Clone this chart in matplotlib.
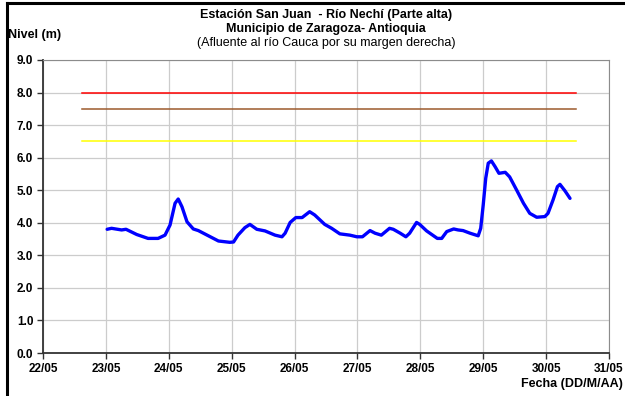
import matplotlib
matplotlib.use("Agg")
import matplotlib.pyplot as plt
from matplotlib.lines import Line2D

# ---- data ----
day_ticks = [22, 23, 24, 25, 26, 27, 28, 29, 30, 31]
day_labels = ["22/05", "23/05", "24/05", "25/05", "26/05", "27/05", "28/05", "29/05", "30/05", "31/05"]
y_ticks = [0, 1, 2, 3, 4, 5, 6, 7, 8, 9]

days = [23.02, 23.09, 23.25, 23.32, 23.49, 23.67, 23.83, 23.94, 24.02, 24.10, 24.15, 24.21,
        24.29, 24.39, 24.47, 24.66, 24.79, 24.97, 25.03, 25.10, 25.21, 25.29, 25.40, 25.53,
        25.69, 25.80, 25.85, 25.93, 26.02, 26.12, 26.24, 26.32, 26.48, 26.59, 26.72, 26.88,
        26.99, 27.08, 27.20, 27.28, 27.38, 27.51, 27.57, 27.68, 27.77, 27.83, 27.94, 27.99,
        28.10, 28.27, 28.34, 28.42, 28.53, 28.60, 28.68, 28.79, 28.92, 28.96, 29.00, 29.04,
        29.08, 29.13, 29.19, 29.25, 29.35, 29.42, 29.53, 29.64, 29.74, 29.85, 29.98, 30.03,
        30.11, 30.18, 30.22, 30.30, 30.38]
levels = [3.80, 3.83, 3.78, 3.80, 3.64, 3.52, 3.52, 3.62, 3.93, 4.60, 4.73, 4.49,
          4.03, 3.81, 3.76, 3.57, 3.44, 3.40, 3.41, 3.62, 3.85, 3.95, 3.80, 3.75,
          3.62, 3.57, 3.68, 4.01, 4.16, 4.16, 4.34, 4.24, 3.95, 3.83, 3.66, 3.62,
          3.57, 3.57, 3.76, 3.68, 3.62, 3.83, 3.80, 3.68, 3.57, 3.68, 4.01, 3.95,
          3.75, 3.52, 3.52, 3.73, 3.81, 3.78, 3.76, 3.68, 3.60, 3.83, 4.55, 5.37,
          5.83, 5.90, 5.72, 5.52, 5.55, 5.41, 5.01, 4.60, 4.29, 4.17, 4.19, 4.29,
          4.70, 5.11, 5.18, 4.98, 4.75]

threshold_start = 22.62
threshold_end = 30.47
threshold_red = 8.0
threshold_brown = 7.5
threshold_yellow = 6.5

# ---- figure ----
plt.rcParams['font.family'] = ['Liberation Sans', 'DejaVu Sans']
fig = plt.figure(figsize=(6.25, 3.96), dpi=100)
ax = fig.add_axes([43/625, 1-353/396, (609-43)/625, (353-60)/396])

ax.plot([threshold_start, threshold_end], [threshold_red]*2, color='#ff0000', lw=1.1, zorder=3)
ax.plot([threshold_start, threshold_end], [threshold_brown]*2, color='#9c5a2c', lw=1.1, zorder=3)
ax.plot([threshold_start, threshold_end], [threshold_yellow]*2, color='#ffff00', lw=1.1, zorder=3)
ax.plot(days, levels, color='#0000ff', lw=2.4, solid_joinstyle='round',
        solid_capstyle='round', zorder=4)

ax.set_xlim(22, 31)
ax.set_ylim(0, 9)
ax.set_xticks(day_ticks)
ax.set_xticklabels(day_labels)
ax.set_yticks(y_ticks)
ax.set_yticklabels([f"{v:.1f}" for v in y_ticks])
ax.grid(True, color='#cccccc', lw=0.9, zorder=0)
ax.set_axisbelow(True)

for lab in ax.get_xticklabels() + ax.get_yticklabels():
    lab.set_fontweight('bold')
    lab.set_fontsize(8.5)
ax.tick_params(axis='both', direction='out', length=4, width=1.0, color='#333333', pad=3)
ax.spines['left'].set_color('#333333')
ax.spines['left'].set_linewidth(1.3)
ax.spines['bottom'].set_color('#333333')
ax.spines['bottom'].set_linewidth(1.3)
ax.spines['top'].set_color('#8c8c8c')
ax.spines['right'].set_color('#8c8c8c')

# titles
cx = (43 + 609) / 2 / 625
fig.text(cx, 1-15/396, "Estación San Juan  - Río Nechí (Parte alta)", ha='center', va='center',
         fontsize=9, fontweight='bold')
fig.text(cx, 1-29/396, "Municipio de Zaragoza- Antioquia", ha='center', va='center',
         fontsize=9, fontweight='bold')
fig.text(cx, 1-43/396, "(Afluente al río Cauca por su margen derecha)", ha='center', va='center',
         fontsize=9)
fig.text(8/625, 1-35/396, "Nivel (m)", ha='left', va='center', fontsize=9, fontweight='bold')
fig.text(623/625, 1-384/396, "Fecha (DD/M/AA)", ha='right', va='center', fontsize=9, fontweight='bold')

# outer border (left and top)
fig.add_artist(Line2D([7/625, 7/625], [0, 1-3/396], color='black', lw=2.2, transform=fig.transFigure))
fig.add_artist(Line2D([7/625, 1], [1-3/396, 1-3/396], color='black', lw=2.2, transform=fig.transFigure))

fig.savefig("out.png", dpi=100)
